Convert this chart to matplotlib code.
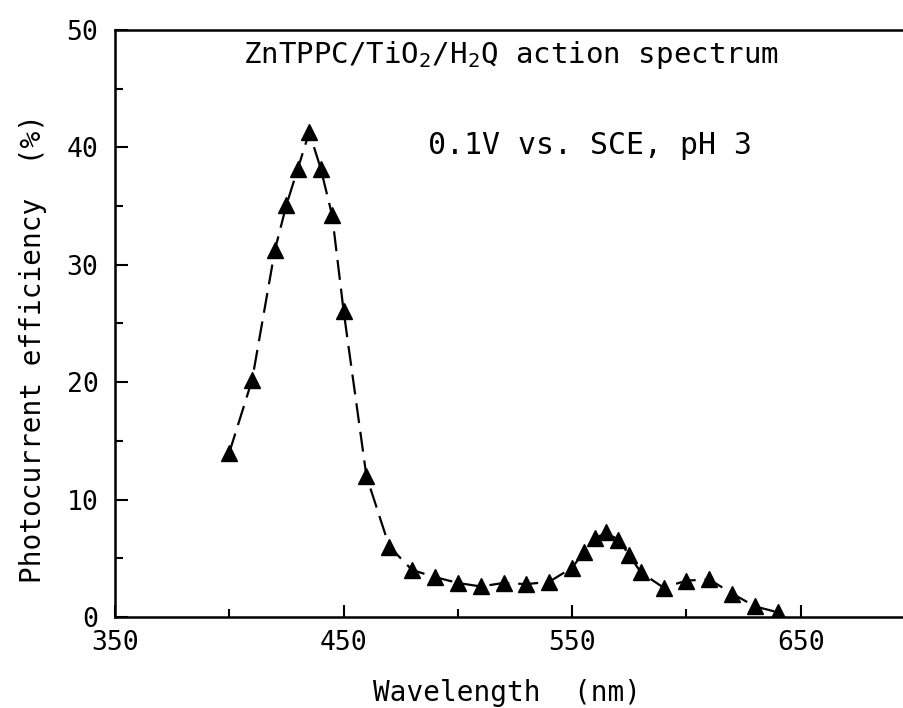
"""
ZnTPPC/TiO2/H2Q photocurrent action spectrum
"""

import matplotlib
matplotlib.use('Agg')
import matplotlib.pyplot as plt
from matplotlib.ticker import MultipleLocator, FixedLocator

# data
wavelength_nm = [400, 410, 420, 425, 430, 435, 440, 445, 450, 460, 470, 480,
                 490, 500, 510, 520, 530, 540, 550, 555, 560, 565, 570, 575,
                 580, 590, 600, 610, 620, 630, 640]
efficiency_pct = [14.0, 20.2, 31.3, 35.1, 38.2, 41.3, 38.2, 34.2, 26.1, 12.0,
                  6.0, 4.0, 3.4, 2.9, 2.6, 2.9, 2.8, 3.0, 4.2, 5.5, 6.7, 7.2,
                  6.6, 5.3, 3.8, 2.5, 3.1, 3.2, 2.0, 0.9, 0.4]

xticks = [350, 450, 550, 650]
yticks = [0, 10, 20, 30, 40, 50]

fnt = 'DejaVu Sans Mono'
plt.rcParams['mathtext.fontset'] = 'custom'
plt.rcParams['mathtext.rm'] = fnt
plt.rcParams['mathtext.default'] = 'regular'

fig = plt.figure(figsize=(9.04, 7.08), dpi=100)
ax = fig.add_axes([115/904, 91/708, 800/904, 587/708])

ax.plot(wavelength_nm, efficiency_pct, color='black', lw=1.6,
        linestyle=(0, (9, 4)), marker='^', markersize=11,
        markerfacecolor='black', markeredgecolor='black')

ax.set_xlim(350, 700)
ax.set_ylim(0, 50)
ax.xaxis.set_major_locator(FixedLocator(xticks))
ax.xaxis.set_minor_locator(MultipleLocator(50))
ax.yaxis.set_major_locator(FixedLocator(yticks))
ax.yaxis.set_minor_locator(MultipleLocator(5))
ax.tick_params(which='both', direction='in', width=1.5, labelsize=19,
               top=False, right=False)
ax.tick_params(which='major', length=9)
ax.tick_params(which='minor', length=6)
ax.tick_params(axis='x', pad=9)
ax.tick_params(axis='y', pad=12)
for lab in ax.get_xticklabels() + ax.get_yticklabels():
    lab.set_fontfamily(fnt)
for s in ax.spines.values():
    s.set_linewidth(1.8)

ax.set_xlabel('Wavelength  (nm)', fontsize=20, family=fnt)
ax.set_ylabel('Photocurrent efficiency  (%)', fontsize=20, family=fnt)
ax.xaxis.set_label_coords(0.5 * (372 + 642 - 230) / 800, -0.105)
ax.yaxis.set_label_coords(-0.085, 0.457)

ax.text(523, 47.9, 'ZnTPPC/TiO$_2$/H$_2$Q action spectrum', fontsize=21,
        family=fnt, ha='center', va='center')
ax.text(558, 40.2, '0.1V vs. SCE, pH 3', fontsize=21.5, family=fnt,
        ha='center', va='center')

fig.savefig('out.png', dpi=100)
